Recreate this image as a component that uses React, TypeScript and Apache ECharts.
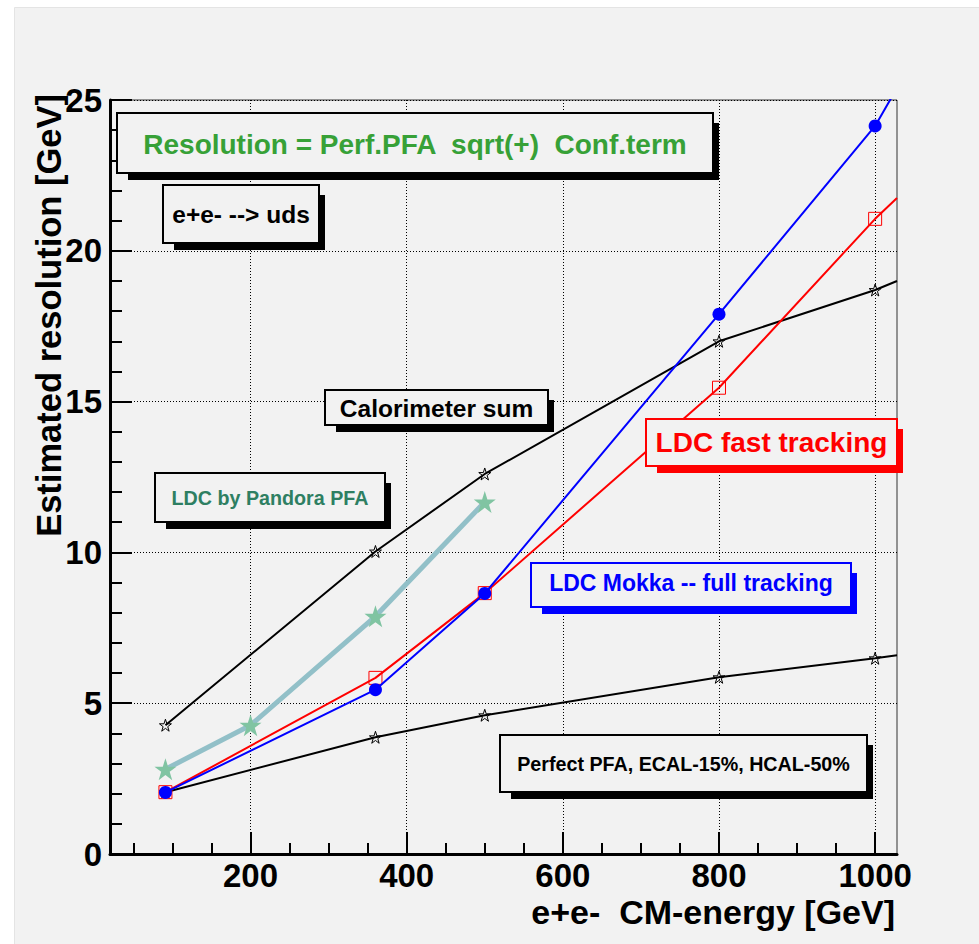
import React, { useEffect, useRef } from "react";
import * as echarts from "echarts";

// ---- data ----
const energies = [91, 360, 500, 800, 1000];
const edgeEnergy = 1028; // where the curves leave the frame
const calorimeterSum = [4.27, 10.03, 12.6, 17.0, 18.7];
const calorimeterSumEdge = 19.0;
const perfectPFA = [2.05, 3.87, 4.6, 5.86, 6.49];
const perfectPFAEdge = 6.59;
const fastTracking = [2.05, 5.84, 8.65, 15.46, 21.06];
const fastTrackingEdge = 21.75;
const mokkaFull = [2.04, 5.45, 8.64, 17.9, 24.14];
const mokkaFullEdge = 25.4;
const pandoraEnergies = [91, 200, 360, 500];
const pandoraPFA = [2.81, 4.27, 7.88, 11.67];

const xMin = 20;
const xMax = 1028;
const xMajorTicks = [200, 400, 600, 800, 1000];
const xMinorTicks = [50, 100, 150, 250, 300, 350, 450, 500, 550, 650, 700, 750, 850, 900, 950];

const FONT = '"Liberation Sans", Arial, Helvetica, sans-serif';
const BG = "#f2f2f2";
const STAR =
  "path://M50,2 L61.8,37.6 L99,37.6 L68.9,59.6 L80.3,95.1 L50,73.1 L19.7,95.1 L31.1,59.6 L1,37.6 L38.2,37.6 Z";

function pairs(xs: number[], ys: number[], edge?: number) {
  const d: any[] = xs.map((x, i) => [x, ys[i]]);
  if (edge !== undefined) d.push({ value: [edgeEnergy, edge], symbol: "none" });
  return d;
}

function box(
  L: number, T: number, R: number, B: number,
  color: string, text: string, textColor: string, fontSize: number,
  cy: number
) {
  const cx = (L + R) / 2;
  return [
    {
      type: "rect", z: 100, silent: true,
      shape: { x: L + 11, y: T + 10, width: R + 6 - (L + 11), height: B + 7 - (T + 10) },
      style: { fill: color },
    },
    {
      type: "rect", z: 101, silent: true,
      shape: { x: L, y: T, width: R - L, height: B - T },
      style: { fill: BG, stroke: color, lineWidth: 2 },
    },
    {
      type: "text", z: 102, silent: true, x: cx, y: cy,
      style: {
        text, fill: textColor,
        font: `bold ${fontSize}px ${FONT}`,
        align: "center", verticalAlign: "middle",
        textAlign: "center", textVerticalAlign: "middle",
      },
    },
  ];
}

export default function App() {
  const ref = useRef<HTMLDivElement>(null);
  useEffect(() => {
    document.body.style.margin = "0";
    if (!ref.current) return;
    const chart = echarts.init(ref.current, null, { renderer: "svg" });
    const tickLabel = {
      fontSize: 33, fontWeight: "bold", color: "#000", fontFamily: FONT,
      formatter: (v: number) => String(v),
    };
    const option: any = {
      animation: false,
      backgroundColor: "#ffffff",
      textStyle: { fontFamily: FONT },
      grid: {
        left: 110, right: 82, top: 100, bottom: 90,
        show: true, borderColor: "#333", borderWidth: 1,
        backgroundColor: "transparent",
        outerBoundsMode: "none",
      },
      xAxis: [
        {
          type: "value", min: xMin, max: xMax,
          axisLine: { show: true, onZero: false, lineStyle: { color: "#000", width: 3 } },
          axisTick: { show: true, inside: true, length: 22, customValues: xMajorTicks, lineStyle: { color: "#000", width: 2 } },
          axisLabel: { ...tickLabel, margin: 5, customValues: xMajorTicks },
          splitLine: { show: true, lineStyle: { color: "#000", width: 1, type: [1, 2] } },
        },
        {
          type: "value", min: xMin, max: xMax, position: "bottom",
          axisLine: { show: false, onZero: false },
          axisTick: { show: true, inside: true, length: 11, customValues: xMinorTicks, lineStyle: { color: "#000", width: 2 } },
          axisLabel: { show: false },
          splitLine: { show: false },
        },
      ],
      yAxis: {
        type: "value", min: 0, max: 25, interval: 5,
        axisLine: { show: true, onZero: false, lineStyle: { color: "#000", width: 3 } },
        axisTick: { show: true, inside: true, length: 22, lineStyle: { color: "#000", width: 2 } },
        minorTick: { show: true, splitNumber: 5, length: 12, lineStyle: { color: "#000", width: 2 } },
        axisLabel: { ...tickLabel, margin: 8 },
        splitLine: { show: true, lineStyle: { color: "#000", width: 1, type: [1, 2] } },
      },
      series: [
        {
          name: "Perfect PFA, ECAL-15%, HCAL-50%", type: "line", z: 3,
          data: pairs(energies, perfectPFA, perfectPFAEdge),
          symbol: STAR, symbolSize: 12,
          lineStyle: { color: "#000", width: 2 },
          itemStyle: { color: "rgba(0,0,0,0)", borderColor: "#000", borderWidth: 1 },
        },
        {
          name: "Calorimeter sum", type: "line", z: 3,
          data: pairs(energies, calorimeterSum, calorimeterSumEdge),
          symbol: STAR, symbolSize: 12,
          lineStyle: { color: "#000", width: 2 },
          itemStyle: { color: "rgba(0,0,0,0)", borderColor: "#000", borderWidth: 1 },
        },
        {
          name: "LDC by Pandora PFA", type: "line", z: 4,
          data: pairs(pandoraEnergies, pandoraPFA),
          symbol: STAR, symbolSize: 22,
          lineStyle: { color: "#92c0c8", width: 5 },
          itemStyle: { color: "#80c4a2", borderWidth: 0 },
        },
        {
          name: "LDC fast tracking", type: "line", z: 5,
          data: pairs(energies, fastTracking, fastTrackingEdge),
          symbol: "rect", symbolSize: 13,
          lineStyle: { color: "#ff0000", width: 2 },
          itemStyle: { color: "rgba(0,0,0,0)", borderColor: "#ff0000", borderWidth: 1 },
        },
        {
          name: "LDC Mokka -- full tracking", type: "line", z: 6,
          data: pairs(energies, mokkaFull, mokkaFullEdge),
          symbol: "circle", symbolSize: 13,
          lineStyle: { color: "#0000ff", width: 2 },
          itemStyle: { color: "#0000ff", borderWidth: 0 },
        },
      ],
      graphic: [
        {
          type: "rect", z: -100, silent: true,
          shape: { x: 14.5, y: 7.5, width: 970, height: 940 },
          style: { fill: BG, stroke: "#e4e4e4", lineWidth: 1 },
        },
        ...box(117, 113, 713, 173, "#000", "Resolution = Perf.PFA  sqrt(+)  Conf.term", "#37a137", 28, 144),
        ...box(163, 185, 319, 243, "#000", "e+e- --> uds", "#000", 24.5, 214),
        ...box(325, 390, 548, 425, "#000", "Calorimeter sum", "#000", 24.5, 408),
        ...box(155, 473, 385, 522, "#000", "LDC by Pandora PFA", "#2e7f62", 19.7, 498),
        ...box(646, 419, 897, 466, "#ff0000", "LDC fast tracking", "#ff0000", 28, 442),
        ...box(531, 563, 851, 607, "#0000ff", "LDC Mokka -- full tracking", "#0000ff", 23, 583),
        ...box(500, 735, 867, 792, "#000", "Perfect PFA, ECAL-15%, HCAL-50%", "#000", 19.7, 764),
        {
          type: "text", z: 102, silent: true, x: 895, y: 912,
          style: {
            text: "e+e-  CM-energy [GeV]", fill: "#000",
            font: `bold 34px ${FONT}`,
            align: "right", verticalAlign: "middle",
            textAlign: "right", textVerticalAlign: "middle",
          },
        },
        {
          type: "text", z: 102, silent: true, x: 49, y: 94, rotation: Math.PI / 2,
          style: {
            text: "Estimated resolution [GeV]", fill: "#000",
            font: `bold 34.5px ${FONT}`,
            align: "right", verticalAlign: "middle",
            textAlign: "right", textVerticalAlign: "middle",
          },
        },
      ],
    };
    chart.setOption(option);
    return () => chart.dispose();
  }, []);
  return <div ref={ref} style={{ width: 979, height: 944 }} />;
}
